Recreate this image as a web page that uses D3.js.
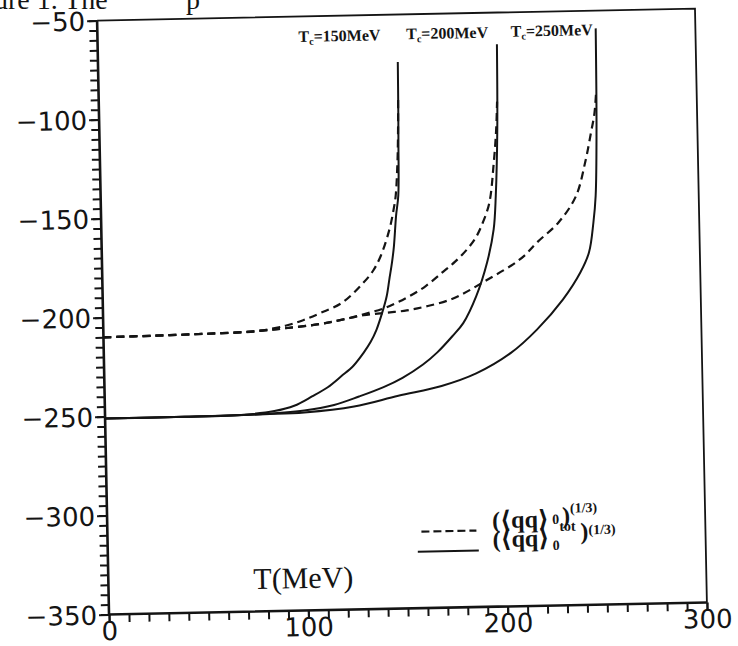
<!DOCTYPE html>
<html>
<head>
<meta charset="utf-8">
<script src="https://cdn.jsdelivr.net/npm/d3@7"></script>
<style>
  body { margin: 0; background: #fff; }
</style>
</head>
<body>
<svg id="chart" width="738" height="646"></svg>
<script>
// values: [T (MeV), condensate^(1/3) (MeV)]
var tcValues = [150, 200, 250];
var tcLabels = ["=150MeV", "=200MeV", "=250MeV"];
var xMajorTicks = [0, 100, 200, 300];
var yMajorTicks = [-50, -100, -150, -200, -250, -300, -350];

var solid150 = [[0,-251],[40,-251],[70,-250.5],[85,-249],[95,-246.5],[104,-242],[112,-237.5],[119,-232],[125,-227],[130.3,-220.5],[134,-215],[137,-209],[140.5,-199],[142.5,-192],[144,-183.5],[145.5,-175],[146.6,-167],[148,-151.5],[149.3,-141.5],[149.9,-115],[150.2,-95],[150.4,-74]];
var solid200 = [[0,-251],[40,-251],[75,-250.5],[100,-249],[115,-246.5],[127.6,-242.5],[140,-238],[149.6,-233.5],[160,-227],[167.3,-221],[175,-213],[180.6,-206.5],[187.4,-193],[193.2,-176],[196.8,-159.5],[198.2,-142.5],[199.6,-110],[200.3,-66]];
var solid250 = [[0,-251],[40,-251],[80,-250.5],[100,-250],[125,-247.5],[147.3,-242.5],[169.1,-238],[186.6,-232],[204.2,-222],[217.5,-210.5],[230.9,-195.5],[239.9,-182],[244.4,-172],[246.9,-157],[248.3,-143.5],[249.4,-110],[250,-59]];

var dashed150 = [[0,-210],[25,-209.7],[50,-209.3],[76,-208.5],[91.4,-206],[100,-203.5],[108.9,-200],[120,-195],[131,-185],[136,-179],[140,-171.5],[144.5,-158.5],[146.8,-148.5],[148,-141.5],[149.2,-125],[149.8,-110],[150.2,-92]];
var dashed200 = [[0,-210],[25,-209.7],[50,-209.3],[76,-208.5],[91,-207.3],[108.8,-205.5],[120,-203.5],[130.7,-201],[141.5,-198],[152.6,-193],[162,-187.5],[170.2,-181],[177,-175.5],[183.5,-169],[188,-163],[191.4,-156],[194.9,-146],[197.5,-126],[199,-110],[199.8,-95]];
var dashed250 = [[0,-210],[25,-209.7],[50,-209.3],[76,-208.5],[91,-207.3],[108.8,-205.5],[120,-203.5],[130.7,-201.5],[141.5,-200.5],[152.4,-199.5],[163,-197.5],[174.3,-194.5],[183,-190.5],[191.9,-185.5],[205.1,-178],[212,-173],[218.4,-166.5],[229.5,-156.5],[238.4,-143.5],[243.5,-126],[246.5,-112],[248.5,-102],[249.5,-92]];

var svg = d3.select("#chart");
var ink = "#141414";

// scrap of the caption cut off at the top of the scan
svg.append("text")
    .attr("x", -6).attr("y", 9)
    .style("font-family", "Liberation Serif, serif")
    .style("font-size", "28px")
    .style("fill", ink)
    .text("ure 1. The");
svg.append("text")
    .attr("x", 186).attr("y", 9)
    .style("font-family", "Liberation Serif, serif")
    .style("font-size", "28px")
    .style("fill", ink)
    .text("p");

var pLeft = 103, pRight = 701, pTop = 14.5, pBottom = 608.5;

// the scan is a little tilted
var g = svg.append("g")
    .attr("transform", "rotate(-1.15," + ((pLeft + pRight) / 2) + "," + ((pTop + pBottom) / 2) + ")");

var x = d3.scaleLinear().domain([0, 300]).range([pLeft, pRight]);
var y = d3.scaleLinear().domain([-350, -50]).range([pBottom, pTop]);

// minor ticks
g.append("g")
    .attr("transform", "translate(" + pLeft + ",0)")
    .call(d3.axisLeft(y).tickValues(d3.range(-350, -49, 5)).tickSize(8).tickFormat(""))
    .call(function(a){ a.select(".domain").remove(); a.selectAll("line").attr("stroke", ink).attr("stroke-width", 2); });

g.append("g")
    .attr("transform", "translate(0," + pBottom + ")")
    .call(d3.axisBottom(x).tickValues(d3.range(0, 301, 10)).tickSize(8).tickFormat(""))
    .call(function(a){ a.select(".domain").remove(); a.selectAll("line").attr("stroke", ink).attr("stroke-width", 2); });

// major ticks + labels
var yAxis = g.append("g")
    .attr("transform", "translate(" + pLeft + ",0)")
    .call(d3.axisLeft(y).tickValues(yMajorTicks).tickSize(10).tickPadding(2)
        .tickFormat(function(d){ return "\u2212" + Math.abs(d); }));
yAxis.select(".domain").remove();
yAxis.selectAll("line").attr("stroke", ink).attr("stroke-width", 2);
yAxis.selectAll("text")
    .style("font-family", "DejaVu Sans, sans-serif")
    .style("font-size", "26px")
    .style("fill", ink)
    .attr("dy", "0.36em");

var xAxis = g.append("g")
    .attr("transform", "translate(0," + pBottom + ")")
    .call(d3.axisBottom(x).tickValues(xMajorTicks).tickSize(8).tickPadding(0).tickFormat(d3.format("d")));
xAxis.select(".domain").remove();
xAxis.selectAll("line").attr("stroke", ink).attr("stroke-width", 2);
xAxis.selectAll("text")
    .style("font-family", "DejaVu Sans, sans-serif")
    .style("font-size", "26px")
    .style("fill", ink)
    .attr("dy", "0.68em");

// frame
g.append("path")
    .attr("d", "M" + pLeft + "," + pTop + "L" + pRight + "," + pTop + "L" + pRight + "," + pBottom)
    .attr("fill", "none").attr("stroke", ink).attr("stroke-width", 1.8);
g.append("path")
    .attr("d", "M" + pLeft + "," + pTop + "L" + pLeft + "," + pBottom + "L" + pRight + "," + pBottom)
    .attr("fill", "none").attr("stroke", ink).attr("stroke-width", 2.6);

var line = d3.line()
    .x(function(d){ return x(d[0]); })
    .y(function(d){ return y(d[1]); })
    .curve(d3.curveCatmullRom.alpha(0.5));

[dashed150, dashed200, dashed250].forEach(function(s){
  g.append("path").datum(s)
    .attr("d", line)
    .attr("fill", "none")
    .attr("stroke", ink)
    .attr("stroke-width", 2.2)
    .attr("stroke-dasharray", "8,5");
});

[solid150, solid200, solid250].forEach(function(s){
  g.append("path").datum(s)
    .attr("d", line)
    .attr("fill", "none")
    .attr("stroke", ink)
    .attr("stroke-width", 2);
});

// T_c labels
var labelShift = [16, 8, 3];
tcValues.forEach(function(tc, i){
  var t = g.append("text")
      .attr("x", x(tc) - labelShift[i])
      .attr("y", 40 - i * 0.5)
      .attr("text-anchor", "end")
      .style("font-family", "Liberation Serif, serif")
      .style("font-weight", "bold")
      .style("font-size", "16px")
      .style("fill", ink);
  t.append("tspan").text("T");
  t.append("tspan").attr("dy", 3).style("font-size", "10px").text("c");
  t.append("tspan").attr("dy", -3).text(tcLabels[i]);
});

// axis title
g.append("text")
    .attr("x", 298).attr("y", 586)
    .attr("text-anchor", "middle")
    .style("font-family", "Liberation Serif, serif")
    .style("font-size", "30px")
    .style("fill", ink)
    .text("T(MeV)");

// legend
var lx = 412, ly = 530;
g.append("line")
    .attr("x1", lx + 5).attr("x2", lx + 60).attr("y1", ly + 2).attr("y2", ly + 2)
    .attr("stroke", ink).attr("stroke-width", 2.2).attr("stroke-dasharray", "8,4");
g.append("line")
    .attr("x1", lx + 1).attr("x2", lx + 62).attr("y1", ly + 22).attr("y2", ly + 22)
    .attr("stroke", ink).attr("stroke-width", 2.2);

var legFont = function(sel, size){
  return sel.style("font-family", "Liberation Serif, DejaVu Serif, serif")
    .style("font-weight", "bold")
    .style("font-size", size + "px")
    .style("fill", ink);
};
// row 1 (dashed)
legFont(g.append("text").attr("x", lx + 76).attr("y", ly), 24).text("(\u27E8qq\u27E9");
legFont(g.append("text").attr("x", lx + 136).attr("y", ly - 3), 14).text("0");
legFont(g.append("text").attr("x", lx + 146).attr("y", ly - 3), 24).text(")");
legFont(g.append("text").attr("x", lx + 154).attr("y", ly - 14), 14).text("(1/3)");
// row 2 (solid)
legFont(g.append("text").attr("x", lx + 76).attr("y", ly + 19), 24).text("(\u27E8qq\u27E9");
legFont(g.append("text").attr("x", lx + 136).attr("y", ly + 23), 14).text("0");
legFont(g.append("text").attr("x", lx + 143).attr("y", ly + 4), 14).text("tot");
legFont(g.append("text").attr("x", lx + 164).attr("y", ly + 13), 24).text(")");
legFont(g.append("text").attr("x", lx + 172).attr("y", ly + 8), 14).text("(1/3)");
</script>
</body>
</html>
